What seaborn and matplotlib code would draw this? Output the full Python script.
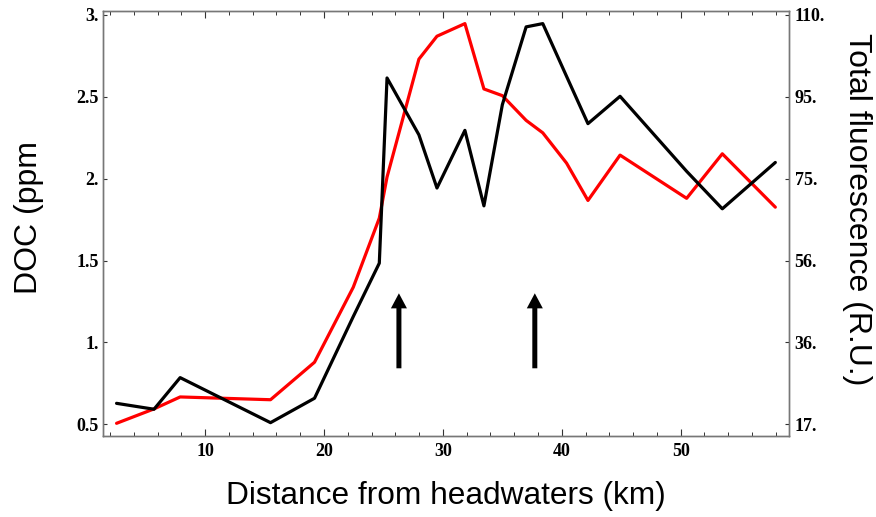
import numpy as np
import pandas as pd
import seaborn as sns
import matplotlib
matplotlib.use("Agg")
import matplotlib.pyplot as plt
from matplotlib.ticker import MultipleLocator, FixedLocator

# ---- data ----
distance_km = [2.55, 5.7, 7.9, 15.5, 19.2, 22.46, 24.65, 25.3, 27.98, 29.5, 31.85,
               33.45, 35.0, 37.0, 38.4, 40.4, 42.2, 44.9, 50.5, 53.5, 57.96]
doc_ppm = [0.506, 0.594, 0.667, 0.65, 0.879, 1.337, 1.759, 2.01, 2.73, 2.87, 2.947,
           2.548, 2.507, 2.356, 2.28, 2.095, 1.867, 2.144, 1.88, 2.152, 1.826]
# total fluorescence, expressed on the left-axis position scale
fluor_pos = [0.628, 0.592, 0.785, 0.51, 0.659, 1.158, 1.484, 2.615, 2.268, 1.943, 2.295,
             1.834, 2.452, 2.927, 2.947, 2.625, 2.336, 2.503, 2.045, 1.816, 2.099]
left_ticks = [0.5, 1.0, 1.5, 2.0, 2.5, 3.0]
left_tick_labels = ["0.5", "1.", "1.5", "2.", "2.5", "3."]
right_tick_labels = ["17.", "36.", "56.", "75.", "95.", "110."]
x_ticks = [10, 20, 30, 40, 50]
arrow_x = [26.3, 37.73]
arrow_y = (0.842, 1.30)

df = pd.DataFrame({"km": distance_km, "doc": doc_ppm, "fl": fluor_pos})

sns.set_style("ticks")
plt.rcParams["font.family"] = ["Liberation Serif", "DejaVu Serif"]
plt.rcParams["text.color"] = "black"
plt.rcParams["axes.labelcolor"] = "black"
plt.rcParams["xtick.color"] = "#333333"
plt.rcParams["ytick.color"] = "#333333"
plt.rcParams["xtick.labelcolor"] = "black"
plt.rcParams["ytick.labelcolor"] = "black"

fig = plt.figure(figsize=(8.76, 5.17), dpi=100)
ax = fig.add_axes([103/876, 81/517, 686/876, 425/517])

sns.lineplot(data=df, x="km", y="doc", ax=ax, color="#ff0000", lw=2.3, sort=False)
sns.lineplot(data=df, x="km", y="fl", ax=ax, color="black", lw=2.3, sort=False)

ax.set_xlim(1.41, 59.11)
ax.set_ylim(0.4285, 3.024)

for s in ax.spines.values():
    s.set_color("#777777")
    s.set_linewidth(1.0)
    s.set_visible(True)

ax.xaxis.set_major_locator(FixedLocator(x_ticks))
ax.xaxis.set_minor_locator(MultipleLocator(2))
ax.set_xticklabels([str(t) for t in x_ticks])
ax.set_yticks(left_ticks)
ax.set_yticklabels(left_tick_labels)
ax.tick_params(axis="x", which="major", direction="in", length=5, width=0.8,
               top=True, labelsize=13, pad=5)
ax.tick_params(axis="x", which="minor", direction="in", length=3, width=0.7, top=True)
ax.tick_params(axis="y", which="major", direction="in", length=3, width=0.8,
               labelsize=13, pad=3)
for lab in ax.get_xticklabels() + ax.get_yticklabels():
    lab.set_fontweight("bold")

ax2 = ax.twinx()
ax2.set_ylim(ax.get_ylim())
ax2.set_yticks(left_ticks)
ax2.set_yticklabels(right_tick_labels)
ax2.tick_params(axis="y", which="major", direction="in", length=3, width=0.8,
                labelsize=13, pad=4)
for lab in ax2.get_yticklabels():
    lab.set_fontweight("bold")
for s in ax2.spines.values():
    s.set_color("#777777")
    s.set_linewidth(1.0)

sans = ["Liberation Sans", "DejaVu Sans"]
ax.set_xlabel("Distance from headwaters (km)", family=sans, fontsize=22.8, labelpad=15,
              color="black")
ax.set_ylabel("DOC (ppm", family=sans, fontsize=23, labelpad=23.5, color="black")
ax.yaxis.label.set_y(0.513)
ax2.set_ylabel("Total fluorescence (R.U.)", family=sans, fontsize=23, rotation=270,
               labelpad=34, color="black")
ax2.yaxis.label.set_y(0.534)

for xa in arrow_x:
    ax.arrow(xa, arrow_y[0], 0, arrow_y[1] - arrow_y[0], width=0.42, head_width=1.35,
             head_length=0.092, length_includes_head=True, color="black", lw=0)

fig.savefig("out.png", dpi=100)
